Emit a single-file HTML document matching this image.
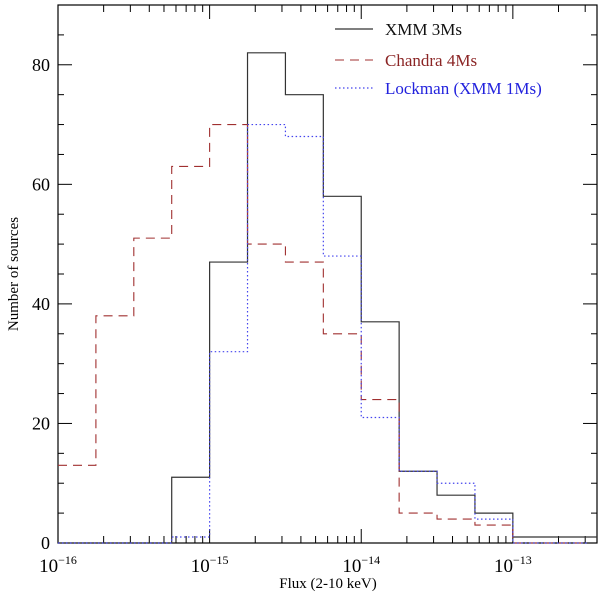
<!DOCTYPE html>
<html><head><meta charset="utf-8"><style>
body{margin:0;background:#fff}
svg text{font-family:"Liberation Serif",serif}
</style></head><body>
<svg id="chart" width="600" height="596" xmlns="http://www.w3.org/2000/svg"></svg>
<script>
const binStartLog = -16, binWidth = 0.25;
const xmmCounts = [0,0,0,11,47,82,75,58,37,12,8,5,1,1,1];
const chandraCounts = [13,38,51,63,70,50,47,35,24,5,4,3,0,0];
const lockmanCounts = [0,0,0,1,32,70,68,48,21,12,10,4,0,0];
const yTickLabels = [0,20,40,60,80];
const xTickExps = [-16,-15,-14,-13];
const legendLabels = ["XMM 3Ms","Chandra 4Ms","Lockman (XMM 1Ms)"];

const L=58,R=597,T=5,B=543;
const xmin=-16, xmax=-12.445, ymax=90;
const X=lg=>L+(lg-xmin)/(xmax-xmin)*(R-L);
const Y=v=>B-v/ymax*(B-T);
const svg=document.getElementById('chart');
const NS='http://www.w3.org/2000/svg';
function mk(tag,attrs,parent){const e=document.createElementNS(NS,tag);for(const k in attrs)e.setAttribute(k,attrs[k]);(parent||svg).appendChild(e);return e;}

const frame=mk('rect',{x:L,y:T,width:R-L,height:B-T,fill:'none',stroke:'#000','stroke-width':1.2});



for(let d=-16; d<=-13; d++){
  for(let m=1;m<=9;m++){
    const lg=d+Math.log10(m); if(lg>xmax) break;
    const x=X(lg), len=m===1?14:7;
    mk('line',{x1:x,y1:B,x2:x,y2:B-len,stroke:'#000'});
    mk('line',{x1:x,y1:T,x2:x,y2:T+len,stroke:'#000'});
  }
}
xTickExps.forEach(e=>{
  const t=mk('text',{x:X(e),y:572,'font-size':19,'text-anchor':'middle',fill:'#000'});
  
  
  t.innerHTML='10<tspan dy="-8" font-size="12">−'+(-e)+'</tspan>';
});
for(let v=0; v<=ymax; v+=5){
  const y=Y(v), len=v%20===0?14:6;
  mk('line',{x1:L,y1:y,x2:L+len,y2:y,stroke:'#000'});
  mk('line',{x1:R,y1:y,x2:R-len,y2:y,stroke:'#000'});
}
yTickLabels.forEach(v=>{
  const t=mk('text',{x:50,y:Y(v)+6,'font-size':18,'text-anchor':'end',fill:'#000'});
  
  
  t.textContent=v;
});
const xt=mk('text',{x:328,y:588,'font-size':15,'text-anchor':'middle',fill:'#000'});


xt.textContent='Flux (2-10 keV)';
const yt=mk('text',{x:0,y:0,'font-size':15,'text-anchor':'middle',fill:'#000',transform:'translate(18,274) rotate(-90)'});


yt.textContent='Number of sources';

function step(counts){
  let d='';
  counts.forEach((c,i)=>{
    const x0=Math.min(X(binStartLog+i*binWidth),R), x1=Math.min(X(binStartLog+(i+1)*binWidth),R);
    d+=(i===0?'M':'L')+x0+','+Y(c)+' L'+x1+','+Y(c)+' ';
  });
  return d;
}
const styles=[
  {c:xmmCounts,stroke:'#333',dash:'',name:'xmm-3ms-series',w:1.2},
  {c:chandraCounts,stroke:'#a03030',dash:'9,6',name:'chandra-4ms-series',w:1.1},
  {c:lockmanCounts,stroke:'#4444ee',dash:'1.5,2.5',name:'lockman-series',w:1.2}
];
styles.forEach((s,i)=>{
  const p=mk('path',{d:step(s.c),fill:'none',stroke:s.stroke,'stroke-width':s.w,'stroke-dasharray':s.dash});
  
  
  const ly=[29,60,88][i];
  const g=mk('g',{});
  
  
  mk('line',{x1:335,y1:ly,x2:373,y2:ly,stroke:s.stroke,'stroke-width':s.w,'stroke-dasharray':s.dash},g);
  const t=mk('text',{x:385,y:ly+6,'font-size':17,fill:s.stroke==='#333'?'#111':(i===1?'#8b2525':'#2222dd')},g);
  t.textContent=legendLabels[i];
});
</script>
</body></html>
